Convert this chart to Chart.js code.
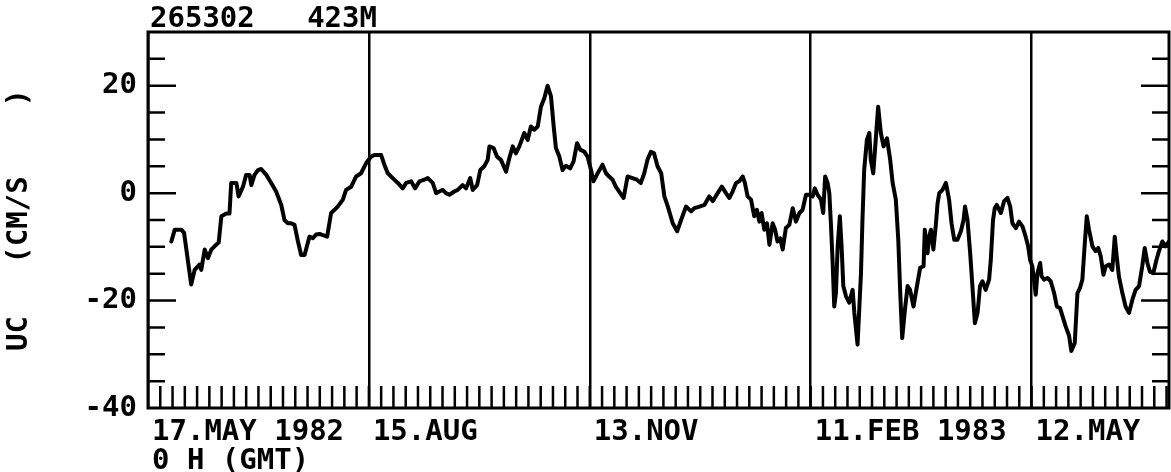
<!DOCTYPE html>
<html>
<head>
<meta charset="utf-8">
<title>265302 423M</title>
<script src="https://cdn.jsdelivr.net/npm/chart.js@4.4.0/dist/chart.umd.min.js"></script>
<style>
  html, body { margin: 0; padding: 0; background: #fff; }
</style>
</head>
<body>
<canvas id="ucChart" width="1171" height="472"></canvas>
<script>
// days after 17 May 1982 0 H (GMT)
const days = [
  9.5, 10.9, 13.6, 14.7, 17.6, 19.0, 21.0, 21.7, 23.1, 24.4, 25.8, 27.1, 28.8, 29.9, 31.9, 33.2,
  33.9, 36.0, 36.9, 38.7, 40.0, 41.4, 42.1, 43.4, 44.8, 46.1, 48.2, 50.2, 52.2, 54.3, 55.6, 57.0,
  58.3, 59.7, 61.1, 62.4, 63.8, 64.9, 65.8, 67.2, 68.5, 69.9, 73.0, 74.6, 76.0, 77.3, 79.4, 80.7,
  82.8, 84.8, 86.8, 88.9, 90.9, 92.3, 95.0, 96.3, 97.7, 99.7, 101.8, 103.8, 105.2, 107.2, 108.8,
  110.6, 112.6, 114.0, 116.0, 117.4, 118.7, 120.1, 121.4, 122.8, 124.8, 126.2, 128.2, 129.6, 131.3,
  132.3, 134.1, 135.4, 137.0, 138.4, 139.1, 140.8, 142.2, 143.8, 145.9, 147.2, 148.6, 149.9, 151.3,
  153.3, 154.7, 156.0, 157.4, 158.8, 160.1, 161.5, 162.8, 164.2, 165.3, 166.2, 167.6, 168.9, 170.3,
  172.0, 173.4, 174.8, 176.1, 177.8, 179.1, 180.5, 181.5, 183.2, 185.2, 186.6, 187.9, 189.3, 190.6,
  192.4, 193.8, 195.4, 197.4, 199.2, 200.8, 202.2, 203.5, 204.9, 206.2, 207.6, 209.1, 210.4, 211.8,
  213.8, 215.6, 217.2, 219.2, 221.3, 222.6, 224.7, 226.7, 228.7, 230.1, 232.1, 233.8, 235.5, 236.9,
  238.2, 239.6, 240.9, 242.3, 243.2, 244.3, 245.7, 247.0, 248.1, 249.1, 250.0, 251.1, 252.2, 253.2,
  254.5, 255.5, 256.5, 257.6, 258.6, 259.9, 261.3, 262.7, 264.0, 265.4, 266.7, 268.1, 269.4, 270.8,
  271.7, 272.8, 274.2, 275.1, 275.9, 276.9, 277.6, 278.3, 278.9, 279.6, 280.3, 281.0, 281.9, 282.6,
  283.3, 284.4, 285.7, 287.1, 287.8, 289.1, 290.5, 291.1, 291.8, 292.9, 293.9, 294.5, 295.5, 296.6,
  297.5, 298.6, 299.7, 301.1, 302.4, 303.4, 304.7, 305.7, 306.5, 307.3, 308.4, 309.5, 310.5, 311.9,
  313.3, 314.6, 316.0, 316.5, 317.6, 318.3, 319.0, 320.0, 321.0, 321.7, 322.4, 323.7, 325.1, 326.4,
  327.4, 328.5, 329.8, 331.2, 332.3, 332.9, 333.9, 335.0, 335.9, 336.9, 338.0, 339.0, 340.0, 341.3,
  342.7, 343.4, 344.3, 345.0, 345.8, 347.5, 348.8, 350.2, 351.3, 352.2, 353.6, 354.9, 356.3, 357.6,
  358.6, 359.4, 360.3, 361.0, 361.7, 362.4, 363.5, 364.1, 365.1, 366.5, 367.8, 369.2, 370.3, 371.6,
  372.6, 373.9, 375.3, 376.2, 377.6, 378.7, 379.7, 380.7, 381.7, 382.5, 383.4, 384.8, 386.1, 387.2,
  388.2, 389.3, 390.2, 391.6, 392.9, 393.9, 394.7, 395.6, 397.0, 398.3, 399.7, 401.1, 402.4, 403.8,
  405.1, 406.1, 407.2, 408.2, 409.6, 410.9, 411.9, 413.3, 414.6, 416.0
];

// UC in CM/S
const ucValues = [
  -9.0, -6.8, -6.8, -7.4, -17.0, -14.3, -13.3, -14.3, -10.5, -12.1, -10.5, -9.9, -9.2, -4.3, -3.8, -3.8,
  1.9, 1.9, -0.6, 1.2, 3.4, 3.4, 1.5, 3.4, 4.3, 4.5, 3.4, 1.9, 0.3, -2.2, -5.0, -5.6,
  -5.6, -5.9, -9.0, -11.5, -11.5, -9.6, -8.1, -8.4, -7.7, -7.6, -8.1, -3.7, -3.1, -2.5, -1.2, 0.6,
  1.2, 3.1, 3.7, 5.6, 6.8, 7.1, 7.1, 5.3, 3.7, 2.8, 1.9, 0.9, 1.9, 2.2, 0.9,
  2.2, 2.5, 2.8, 1.9, 0.0, 0.3, 0.6, 0.0, -0.3, 0.3, 0.6, 1.5, 0.9, 2.8,
  0.6, 1.5, 4.3, 5.0, 6.2, 8.7, 8.4, 6.8, 6.2, 4.0, 6.5, 8.7, 7.4, 8.7,
  11.2, 9.9, 12.4, 11.8, 12.4, 16.1, 17.7, 20.0, 18.0, 12.4, 8.4, 6.8, 4.3, 5.1,
  4.6, 5.9, 9.3, 8.1, 7.7, 6.8, 4.3, 2.2, 3.7, 5.3, 3.7, 3.1, 2.5, 1.2,
  0.0, -0.9, 3.1, 2.8, 2.5, 1.9, 3.7, 6.2, 7.7, 7.4, 5.0, 3.7, -0.6, -2.5,
  -5.6, -7.1, -5.0, -2.5, -3.4, -2.8, -2.5, -2.2, -0.6, -1.5, 0.0, 1.2, 0.0, -0.9,
  0.3, 1.9, 2.2, 3.1, 1.9, -0.6, -1.2, -4.3, -3.1, -5.3, -3.7, -6.8, -5.6, -9.6,
  -5.6, -6.8, -9.0, -8.4, -10.5, -6.5, -5.9, -2.8, -5.3, -3.7, -3.1, -0.3, -0.3, -0.6,
  0.9, -0.3, -1.2, -3.7, 3.1, 1.9, 0.0, -6.2, -12.4, -21.1, -18.6, -9.9, -4.3, -9.9,
  -17.3, -19.2, -20.4, -18.0, -22.3, -28.2, -14.9, -5.0, 4.3, 9.9, 11.2, 6.2, 3.7, 10.5,
  16.1, 11.2, 8.7, 10.2, 6.2, 1.9, -1.2, -8.7, -18.6, -27.0, -21.7, -17.3, -18.0, -21.1,
  -17.3, -13.9, -13.6, -6.8, -11.2, -8.1, -6.8, -10.5, -5.9, -1.9, 0.0, 0.6, 1.9, -1.2,
  -5.6, -8.7, -8.7, -7.1, -5.0, -2.5, -5.0, -11.2, -17.3, -24.2, -22.3, -17.3, -16.4, -18.0,
  -16.1, -12.4, -5.0, -2.8, -2.2, -3.7, -1.5, -0.9, -2.5, -5.6, -6.5, -5.3, -6.2, -8.1,
  -9.9, -12.4, -13.6, -16.1, -18.9, -14.9, -13.0, -15.5, -16.1, -15.8, -16.4, -18.6, -21.1, -21.4,
  -22.9, -24.8, -26.6, -29.4, -27.9, -18.6, -17.7, -16.1, -9.3, -4.3, -6.8, -9.9, -10.8, -10.2,
  -11.8, -15.2, -13.6, -13.3, -14.3, -8.1, -11.8, -15.5, -18.6, -21.1, -22.3, -19.8, -18.0, -17.3,
  -13.6, -10.2, -13.0, -14.6, -14.9, -12.4, -10.8, -9.0, -9.9, -9.0
];

const dateTickDays = [0, 90, 180, 270, 360];
const dateTickLabels = [["17.MAY 1982", "0 H (GMT)"], "15.AUG", "13.NOV", "11.FEB 1983", "12.MAY"];
const yLabelValues = [-40, -20, 0, 20];
const yLabelTexts = ["-40", "-20", "0", "20"];
const headerText = "265302   423M";
const yTitle = "UC   (CM/S    )";

const FONT = "'DejaVu Sans Mono', 'Liberation Mono', monospace";

// frame, inward tick marks and header, drawn like the old plotter sheet
const plotterMarks = {
  id: "plotterMarks",
  afterDraw(chart) {
    const { ctx, chartArea: a, scales: { x, y } } = chart;
    ctx.save();
    ctx.strokeStyle = "#000";
    ctx.lineWidth = 3;
    ctx.strokeRect(a.left, a.top, a.right - a.left, a.bottom - a.top);

    ctx.lineWidth = 2.5;
    ctx.beginPath();
    for (let v = y.min + 5; v < y.max; v += 5) {
      const py = y.getPixelForValue(v);
      const len = v % 20 === 0 ? 28 : 17;
      ctx.moveTo(a.left, py);
      ctx.lineTo(a.left + len, py);
      ctx.moveTo(a.right, py);
      ctx.lineTo(a.right - len, py);
    }
    for (let d = 5; d < x.max; d += 5) {
      const px = x.getPixelForValue(d);
      ctx.moveTo(px, a.bottom);
      ctx.lineTo(px, a.bottom - 22);
    }
    ctx.stroke();

    ctx.fillStyle = "#000";
    ctx.font = "bold 29px " + FONT;
    ctx.textAlign = "left";
    ctx.textBaseline = "alphabetic";
    ctx.fillText(headerText, a.left + 2, 27);
    ctx.restore();
  },
};

const ctx = document.getElementById("ucChart");

new Chart(ctx, {
  type: "line",
  data: {
    datasets: [
      {
        label: "UC (CM/S)",
        data: days.map((d, i) => ({ x: d, y: ucValues[i] })),
        borderColor: "#000",
        borderWidth: 4,
        pointRadius: 0,
        tension: 0,
        borderJoinStyle: "round",
        borderCapStyle: "round",
      },
    ],
  },
  options: {
    responsive: false,
    animation: false,
    layout: { padding: { top: 32, right: 2, left: 0, bottom: 0 } },
    plugins: {
      legend: { display: false },
      tooltip: { enabled: false },
    },
    scales: {
      x: {
        type: "linear",
        min: 0,
        max: 416,
        afterBuildTicks: (scale) => {
          scale.ticks = dateTickDays.map((v) => ({ value: v }));
        },
        afterFit: (scale) => {
          scale.height = 64;
        },
        ticks: {
          autoSkip: false,
          maxRotation: 0,
          align: "start",
          labelOffset: 4,
          padding: 10,
          color: "#000",
          font: { family: FONT, size: 29, weight: "bold", lineHeight: 1.0 },
          callback: (value, index) => dateTickLabels[index],
        },
        grid: {
          color: "#000",
          lineWidth: 2.5,
          drawTicks: false,
        },
        border: { display: false },
      },
      y: {
        min: -40,
        max: 30,
        afterBuildTicks: (scale) => {
          scale.ticks = yLabelValues.map((v) => ({ value: v }));
        },
        afterFit: (scale) => {
          scale.width = 148;
        },
        ticks: {
          autoSkip: false,
          padding: 11,
          color: "#000",
          font: { family: FONT, size: 29, weight: "bold", lineHeight: 1.0 },
          callback: (value, index) => yLabelTexts[index],
        },
        grid: { display: false, drawTicks: false },
        border: { display: false },
        title: {
          display: true,
          text: yTitle,
          color: "#000",
          padding: { top: 5, bottom: 0 },
          font: { family: FONT, size: 29, weight: "bold", lineHeight: 1.0 },
        },
      },
    },
  },
  plugins: [plotterMarks],
});
</script>
</body>
</html>
